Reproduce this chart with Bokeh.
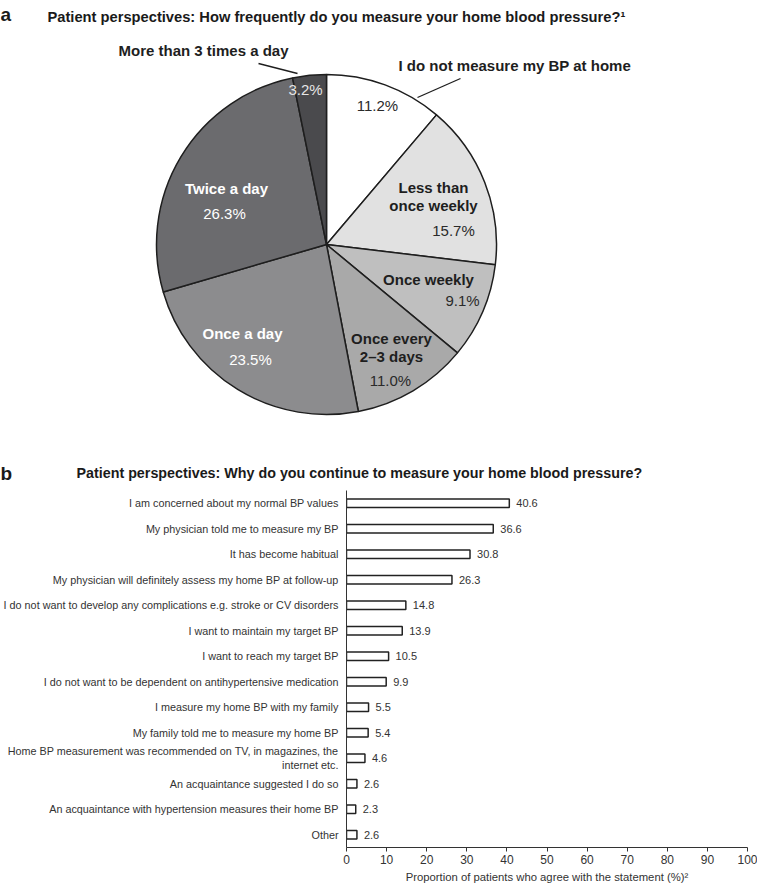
import numpy as np
from bokeh.plotting import figure
from bokeh.models import Range1d, FactorRange, ColumnDataSource, FixedTicker
from bokeh.core.properties import value
from bokeh.embed import file_html
from bokeh.resources import INLINE

# ---------------- Data: panel a ----------------
panel_a_letter = "a"
pie_title = "Patient perspectives: How frequently do you measure your home blood pressure?\u00b9"
pie_labels = [
    "I do not measure my BP at home",
    "Less than\nonce weekly",
    "Once weekly",
    "Once every\n2\u20133 days",
    "Once a day",
    "Twice a day",
    "More than 3 times a day",
]
pie_values = [11.2, 15.7, 9.1, 11.0, 23.5, 26.3, 3.2]

# ---------------- Data: panel b ----------------
panel_b_letter = "b"
bar_title = "Patient perspectives: Why do you continue to measure your home blood pressure?"
bar_categories = [
    "I am concerned about my normal BP values",
    "My physician told me to measure my BP",
    "It has become habitual",
    "My physician will definitely assess my home BP at follow-up",
    "I do not want to develop any complications e.g. stroke or CV disorders",
    "I want to maintain my target BP",
    "I want to reach my target BP",
    "I do not want to be dependent on antihypertensive medication",
    "I measure my home BP with my family",
    "My family told me to measure my home BP",
    "Home BP measurement was recommended on TV, in magazines, the\ninternet etc.",
    "An acquaintance suggested I do so",
    "An acquaintance with hypertension measures their home BP",
    "Other",
]
bar_values = [40.6, 36.6, 30.8, 26.3, 14.8, 13.9, 10.5, 9.9, 5.5, 5.4, 4.6, 2.6, 2.3, 2.6]
bar_ticks = [0, 10, 20, 30, 40, 50, 60, 70, 80, 90, 100]
bar_xlabel = "Proportion of patients who agree with the statement (%)\u00b2"

# ---------------- Styles / layout ----------------
FONT = value("Liberation Sans")
W = 757
H1 = 490          # pie panel (page y 0..490)
H2 = 395          # bar panel (page y 490..885)
CX, CY, R = 326, 246, 170   # local coords of the pie (y up)

PIE_COLORS = ["#ffffff", "#e1e1e1", "#bfbfbf", "#a9a9a9", "#8c8c8e", "#6b6b6e", "#4a4a4d"]
NAME_COLORS = ["#1e1e1e", "#1e1e1e", "#1e1e1e", "#1e1e1e", "#ffffff", "#ffffff", "#1e1e1e"]
PCT_COLORS = ["#2a2a2a", "#2a2a2a", "#2a2a2a", "#2a2a2a", "#ffffff", "#ffffff", "#e6e6e6"]
# label anchors: offsets from the pie centre in pixels (dx right, dy down)
NAME_POS = [(72, -179), (107, -57), (102, 35), (65, 94), (-84, 89), (-100, -56), (-208, -194)]
NAME_ALIGN = ["left", "center", "center", "center", "center", "center", "left"]
PCT_POS = [(51, -139), (127, -14), (136, 56), (64, 136), (-76, 115), (-102, -31), (-21, -155)]
LEADERS = {0: ((134, -166), (91, -147)), 6: ((-68, -181), (-29, -171))}

# ---------------- Figure 1: pie ----------------
p1 = figure(width=W, height=H1, x_range=Range1d(0, W), y_range=Range1d(0, H1),
            output_backend="svg", toolbar_location=None, min_border=0,
            x_axis_location=None, y_axis_location=None, outline_line_color=None)
p1.grid.visible = False

vals = np.array(pie_values, dtype=float)
frac = vals / vals.sum()
ends = np.cumsum(frac)
starts = ends - frac
src = ColumnDataSource(dict(
    start=np.pi / 2 - 2 * np.pi * starts,
    end=np.pi / 2 - 2 * np.pi * ends,
    color=PIE_COLORS,
))
p1.wedge(x=CX, y=CY, radius=R, start_angle="start", end_angle="end", direction="clock",
         fill_color="color", line_color="#1e1e1e", line_width=1.5, source=src)

for i, (lab, v) in enumerate(zip(pie_labels, pie_values)):
    dx, dy = NAME_POS[i]
    lines = lab.split("\n")
    for k, ln in enumerate(lines):
        p1.text(x=[CX + dx], y=[CY - dy - 18 * k], text=[ln], text_font=FONT,
                text_font_size="15px", text_font_style="bold", text_color=NAME_COLORS[i],
                text_align=NAME_ALIGN[i], text_baseline="middle")
    px, py = PCT_POS[i]
    p1.text(x=[CX + px], y=[CY - py], text=[f"{v:.1f}%"], text_font=FONT,
            text_font_size="15px", text_color=PCT_COLORS[i],
            text_align="center", text_baseline="middle")
    if i in LEADERS:
        (ax, ay), (bx, by) = LEADERS[i]
        p1.line(x=[CX + ax, CX + bx], y=[CY - ay, CY - by], line_color="#1e1e1e", line_width=1.3)

# panel letters & titles (local coords: x = page_x, y = 490 - page_y)
p1.text(x=[0], y=[476], text=[panel_a_letter], text_font=FONT, text_font_size="19px",
        text_font_style="bold", text_color="#1a1a1a", text_align="left", text_baseline="alphabetic")
p1.text(x=[47], y=[474], text=[pie_title], text_font=FONT, text_font_size="14.7px",
        text_font_style="bold", text_color="#1a1a1a", text_align="left", text_baseline="middle")
p1.text(x=[0], y=[17], text=[panel_b_letter], text_font=FONT, text_font_size="19px",
        text_font_style="bold", text_color="#1a1a1a", text_align="left", text_baseline="alphabetic")
p1.text(x=[76], y=[18], text=[bar_title], text_font=FONT, text_font_size="14.3px",
        text_font_style="bold", text_color="#1a1a1a", text_align="left", text_baseline="middle")

# ---------------- Figure 2: bars ----------------
p2 = figure(width=W, height=H2, x_range=Range1d(0, 100),
            y_range=FactorRange(factors=bar_categories[::-1]),
            output_backend="svg", toolbar_location=None,
            min_border_left=344, min_border_right=10, min_border_top=0,
            min_border_bottom=H2 - 358, outline_line_color=None)
p2.grid.visible = False

bsrc = ColumnDataSource(dict(cat=bar_categories, val=bar_values,
                             lbl=[f"{v:.1f}" for v in bar_values]))
p2.hbar(y="cat", left=0, right="val", height=0.34, fill_color="white",
        line_color="#222222", line_width=1.5, source=bsrc)
p2.text(x="val", y="cat", text="lbl", x_offset=7, text_align="left", text_baseline="middle",
        text_font=FONT, text_font_size="11px", text_color="#333333", source=bsrc)

xa = p2.xaxis[0]
xa.ticker = FixedTicker(ticks=bar_ticks)
xa.major_tick_in = 0
xa.major_tick_out = 4
xa.minor_tick_line_color = None
xa.axis_line_color = "#333333"
xa.major_tick_line_color = "#333333"
xa.major_label_standoff = 3
xa.major_label_text_font = "Liberation Sans"
xa.major_label_text_font_size = "12px"
xa.major_label_text_color = "#333333"
xa.axis_label = bar_xlabel
xa.axis_label_standoff = 4
xa.axis_label_text_font = "Liberation Sans"
xa.axis_label_text_font_size = "11.3px"
xa.axis_label_text_font_style = "normal"
xa.axis_label_text_color = "#333333"

ya = p2.yaxis[0]
ya.major_tick_line_color = None
ya.minor_tick_line_color = None
ya.major_tick_in = 0
ya.major_tick_out = 0
ya.major_label_standoff = 8
ya.axis_line_color = "#333333"
ya.major_label_text_font = "Liberation Sans"
ya.major_label_text_font_size = "10.8px"
ya.major_label_text_color = "#333333"

open("out.html", "w").write(file_html([p1, p2], INLINE))
